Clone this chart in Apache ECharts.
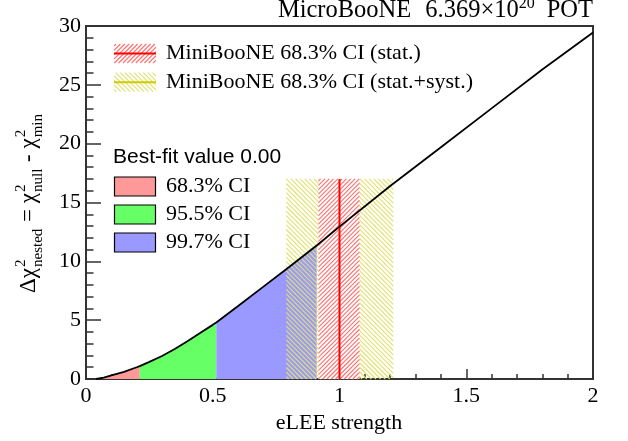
<!DOCTYPE html>
<html><head><meta charset="utf-8">
<script src="https://cdn.jsdelivr.net/npm/echarts@6/dist/echarts.min.js"></script>
<style>html,body{margin:0;padding:0;background:#fff}#c{width:628px;height:441px}</style>
</head><body><div id="c"></div>
<script>
// ---- data ----
const xCurve = [0.04, 0.07, 0.1, 0.15, 0.2, 0.212, 0.25, 0.3, 0.35, 0.4, 0.45, 0.5, 0.514, 0.6, 0.7, 0.8, 0.91, 1.0, 1.2, 1.4, 1.6, 1.8, 2.0];
const yCurve = [0, 0.12, 0.3, 0.6, 1.0, 1.1, 1.45, 1.95, 2.55, 3.2, 3.9, 4.6, 4.8, 6.2, 7.85, 9.5, 11.35, 12.95, 16.4, 19.7, 23.0, 26.3, 29.45];
const ciUpper = [0.212, 0.514, 0.91];
const ciNames = ['68.3% CI', '95.5% CI', '99.7% CI'];
const bestFitText = 'Best-fit value 0.00';
const mbCentral = 1.0;
const mbStat = [0.917, 1.079];
const mbSyst = [0.79, 1.212];
const mbTop = 17;
const mbNames = ['MiniBooNE 68.3% CI (stat.)', 'MiniBooNE 68.3% CI (stat.+syst.)'];

// ---- styles ----
const ciColors = ['#ff9999', '#66ff66', '#9999ff'];
const SERIF = 'Liberation Serif';
const SANS = 'Liberation Sans';
const AX = '#333';
const RED_H = { dir: 1, step: 4.3, color: 'rgb(255,110,110)', width: 1.1, bg: '#ffffff' };
const YEL_H = { dir: -1, step: 4.6, color: 'rgb(225,225,105)', width: 1.1, bg: null };

// diagonal hatch lines clipped to a rectangle
function hatchEls(L, T, W, H, h) {
  const R = L + W, B = T + H, els = [];
  if (h.bg) els.push({ type: 'rect', shape: { x: L, y: T, width: W, height: H }, style: { fill: h.bg } });
  if (h.dir > 0) { // x + y = c
    for (let c = L + T + h.step / 2; c < R + B; c += h.step) {
      const xa = Math.max(L, c - B), xb = Math.min(R, c - T);
      if (xb > xa) els.push({ type: 'line', shape: { x1: xa, y1: c - xa, x2: xb, y2: c - xb }, style: { stroke: h.color, lineWidth: h.width } });
    }
  } else { // x - y = c
    for (let c = L - B + h.step / 2; c < R - T; c += h.step) {
      const xa = Math.max(L, c + T), xb = Math.min(R, c + B);
      if (xb > xa) els.push({ type: 'line', shape: { x1: xa, y1: xa - c, x2: xb, y2: xb - c }, style: { stroke: h.color, lineWidth: h.width } });
    }
  }
  return els;
}

const mctx = document.createElement('canvas').getContext('2d');
function tw(text, size, fam) { mctx.font = size + 'px "' + fam + '"'; return mctx.measureText(text).width; }

function txt(text, x, y, size, fam, align) {
  return { type: 'text', x: x, y: y, style: { text: text, font: size + 'px "' + fam + '"', fill: '#000', align: align || 'left', verticalAlign: 'middle' } };
}

// y-axis title with stacked sup/sub
function yTitle() {
  const parts = [
    { t: '\u0394\u03c7', s: 23 },
    { sup: '2', sub: 'nested', s: 15 },
    { t: ' = \u03c7', s: 23 },
    { sup: '2', sub: 'null', s: 15 },
    { t: ' - \u03c7', s: 23 },
    { sup: '2', sub: 'min', s: 15 }
  ];
  const kids = []; let x = 0;
  parts.forEach(p => {
    if (p.t) {
      kids.push(txt(p.t, x, -0.34 * p.s, p.s, SERIF)); x += tw(p.t, p.s, SERIF);
    } else {
      kids.push(txt(p.sup, x + 1, -11 - 0.34 * p.s, p.s, SERIF));
      kids.push(txt(p.sub, x + 1, 6 - 0.34 * p.s, p.s, SERIF));
      x += Math.max(tw(p.sup, p.s, SERIF), tw(p.sub, p.s, SERIF)) + 2;
    }
  });
  kids.forEach(k => k.x -= x / 2);
  return { type: 'group', x: 37, y: 203, rotation: Math.PI / 2, children: kids };
}

// title laid out right-to-left from the frame's right edge
function title() {
  const pieces = [
    { t: 'MicroBooNE', s: 24.5, r: 0, gap: 14 },
    { t: '6.369\u00d710', s: 24.5, r: 0, gap: 0 },
    { t: '20', s: 16, r: 9, gap: 12 },
    { t: 'POT', s: 24.5, r: 0, gap: 0 }
  ];
  let x = 593; const out = [];
  for (let i = pieces.length - 1; i >= 0; i--) {
    const p = pieces[i];
    out.push(txt(p.t, x, 18.5 - p.r - 0.34 * p.s, p.s, SERIF, 'right'));
    x -= tw(p.t, p.s, SERIF) + (i > 0 ? pieces[i - 1].gap : 0);
  }
  return out;
}

const pts = xCurve.map((x, i) => [x, yCurve[i]]);
const fillSeries = ciUpper.map((hi, i) => {
  const lo = i === 0 ? -Infinity : ciUpper[i - 1];
  return {
    type: 'line', data: pts.filter(p => p[0] >= lo && p[0] <= hi), symbol: 'none',
    lineStyle: { width: 0 }, areaStyle: { color: ciColors[i], opacity: 1 }, z: 1, silent: true
  };
});

function band(h, z, range) {
  return {
    type: 'custom', z: z, silent: true, clip: false,
    data: [[range[0], range[1], mbTop]],
    encode: { x: [0, 1], y: 2 },
    renderItem: function (params, api) {
      const a = api.coord([api.value(0), api.value(2)]);
      const b = api.coord([api.value(1), 0]);
      return { type: 'group', children: hatchEls(a[0], a[1], b[0] - a[0], b[1] - a[1], h) };
    }
  };
}

const graphics = [];
graphics.push(yTitle());
title().forEach(t => graphics.push(t));
graphics.push(txt('eLEE strength', 339, 423, 22, SERIF, 'center'));
// MiniBooNE legend
[[RED_H, '#ff0000'], [YEL_H, '#cccc00']].forEach((d, i) => {
  const cy = 53.5 + i * 28.7;
  graphics.push({ type: 'group', children: hatchEls(114, cy - 9.5, 42, 19, d[0]) });
  graphics.push({ type: 'line', shape: { x1: 114, y1: cy, x2: 156, y2: cy }, style: { stroke: d[1], lineWidth: 2 } });
  graphics.push(txt(mbNames[i], 166, cy, 22, SERIF));
});
// CI legend
graphics.push(txt(bestFitText, 113, 157, 21, SANS));
ciNames.forEach((n, i) => {
  const cy = 186.5 + i * 28;
  graphics.push({ type: 'rect', shape: { x: 114.5, y: cy - 9.5, width: 41, height: 19 }, style: { fill: ciColors[i], stroke: '#000', lineWidth: 1.2 } });
  graphics.push(txt(n, 166, cy, 22, SERIF));
});

const chart = echarts.init(document.getElementById('c'), null, { renderer: 'canvas' });
chart.setOption({
  animation: false,
  grid: { left: 86, right: 35, top: 26, bottom: 62, show: true, borderColor: AX, borderWidth: 2, backgroundColor: 'transparent' },
  xAxis: {
    type: 'value', min: 0, max: 2, interval: 0.5,
    axisLine: { show: true, onZero: false, lineStyle: { color: AX, width: 2 } },
    axisTick: { show: true, inside: true, length: 10, lineStyle: { color: AX, width: 1.5 } },
    minorTick: { show: true, splitNumber: 5, length: 5, lineStyle: { color: AX, width: 1.5 } },
    axisLabel: { margin: 6, fontFamily: SERIF, fontSize: 22, color: '#000' },
    splitLine: { show: false }, minorSplitLine: { show: false }
  },
  yAxis: {
    type: 'value', min: 0, max: 30, interval: 5,
    axisLine: { show: true, onZero: false, lineStyle: { color: AX, width: 2 } },
    axisTick: { show: true, inside: true, length: 15, lineStyle: { color: AX, width: 1.5 } },
    minorTick: { show: true, splitNumber: 5, length: 7.5, lineStyle: { color: AX, width: 1.5 } },
    axisLabel: { margin: 5, fontFamily: SERIF, fontSize: 22, color: '#000' },
    splitLine: { show: false }, minorSplitLine: { show: false }
  },
  series: fillSeries.concat([
    band(YEL_H, 4, mbSyst),
    band(RED_H, 5, mbStat),
    { type: 'line', data: [[mbCentral, 0], [mbCentral, mbTop]], symbol: 'none', lineStyle: { color: '#ff0000', width: 2 }, z: 6, silent: true },
    { type: 'line', data: pts, symbol: 'none', lineStyle: { color: '#000', width: 1.8 }, z: 10, silent: true }
  ]),
  graphic: graphics
});
</script></body></html>
